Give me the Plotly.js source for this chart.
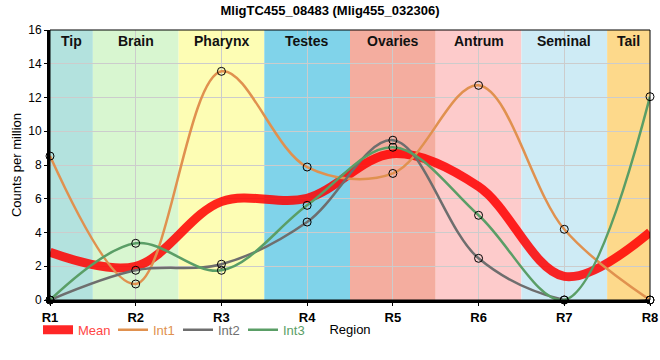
<!DOCTYPE html>
<html>
<head>
<meta charset="utf-8">
<script src="https://cdn.plot.ly/plotly-3.0.1.min.js"></script>
<style>html,body{margin:0;padding:0;background:#fff;}#chart{width:660px;height:360px;}</style>
</head>
<body>
<div id="chart"></div>
<script>
var regions = ["R1","R2","R3","R4","R5","R6","R7","R8"];
var meanVals = [2.83, 2.0, 5.83, 6.03, 8.67, 6.72, 1.4, 4.02];
var int1Vals = [8.53, 0.95, 13.55, 7.88, 7.5, 12.72, 4.19, 0];
var int2Vals = [0, 1.76, 2.12, 4.62, 9.47, 2.47, 0, 0];
var int3Vals = [0, 3.36, 1.76, 5.61, 9.05, 5.02, 0, 12.05];
var bandNames = ["Tip","Brain","Pharynx","Testes","Ovaries","Antrum","Seminal","Tail"];
var bandStart = [0, 0.5, 1.5, 2.5, 3.5, 4.5, 5.5, 6.5];
var bandEnd   = [0.5, 1.5, 2.5, 3.5, 4.5, 5.5, 6.5, 7];
var bandColors = ["#b3e2de","#d8f6d0","#fdfdb4","#80d3ea","#f4ad9f","#fdcbcb","#ceebf5","#fdd98b"];

var shapes = [];
var annotations = [];
for (var i = 0; i < bandNames.length; i++) {
  shapes.push({type:"rect", xref:"x", yref:"paper", x0:bandStart[i], x1:bandEnd[i], y0:0, y1:1,
    fillcolor:bandColors[i], line:{width:0}, layer:"below"});
  annotations.push({xref:"x", yref:"paper", x:(bandStart[i]+bandEnd[i])/2, y:1, yanchor:"top", yshift:-1,
    text:"<b>"+bandNames[i]+"</b>", showarrow:false, font:{family:"Liberation Sans, Arial", size:14, color:"#111"}});
}
shapes.push({type:"rect", xref:"paper", yref:"paper", x0:0, x1:1, y0:0, y1:1, line:{color:"#000", width:1}, fillcolor:"rgba(0,0,0,0)", layer:"above"});

var sm = 1.0;
var mk = {symbol:"circle-open", color:"#000", size:8, line:{width:1}};
function markerTrace(vals) {
  return {x:regions, y:vals, mode:"markers", marker:mk, showlegend:false, cliponaxis:false, hoverinfo:"skip"};
}
var traces = [
  {x:regions, y:meanVals, name:'<span style="color:#ff4545">Mean</span>', mode:"lines", legendwidth:30,
   line:{color:"rgba(255,0,0,0.85)", width:9, shape:"spline", smoothing:sm}},
  {x:regions, y:int1Vals, name:'<span style="color:#e0914f">Int1</span>', mode:"lines", legendwidth:20,
   line:{color:"#e0914f", width:2.5, shape:"spline", smoothing:sm}},
  {x:regions, y:int2Vals, name:'<span style="color:#707070">Int2</span>', mode:"lines", legendwidth:20,
   line:{color:"#6e6e6e", width:2.5, shape:"spline", smoothing:sm}},
  {x:regions, y:int3Vals, name:'<span style="color:#5a9e66">Int3</span>', mode:"lines", legendwidth:20,
   line:{color:"#5a9e66", width:2.5, shape:"spline", smoothing:sm}},
  markerTrace(int1Vals), markerTrace(int2Vals), markerTrace(int3Vals)
];

var layout = {
  width:660, height:360,
  margin:{l:50, r:10, t:30, b:60},
  paper_bgcolor:"#fff", plot_bgcolor:"#fff",
  font:{family:"Liberation Sans, Arial", size:12, color:"#000"},
  title:{text:"<b>MligTC455_08483 (Mlig455_032306)</b>", x:0.5, xanchor:"center", y:0.985, yanchor:"top",
    font:{size:13, color:"#000"}},
  xaxis:{type:"category", range:[0,7], showgrid:true, gridcolor:"#cccccc", gridwidth:1,
    showline:true, linecolor:"#000", linewidth:3, ticks:"outside", ticklen:3, tickcolor:"#000",
    tickfont:{size:13}, tickvals:regions, ticktext:regions.map(function(r){return "<b>"+r+"</b>";}),
    zeroline:false,
    title:{text:"Region", font:{size:13}, standoff:2}},
  yaxis:{range:[0,16], dtick:2, showgrid:true, gridcolor:"#cccccc", gridwidth:1,
    showline:true, linecolor:"#000", linewidth:3, ticks:"outside", ticklen:3, tickcolor:"#000",
    tickfont:{size:12}, zeroline:false,
    title:{text:"Counts per million", font:{size:13}, standoff:4}},
  showlegend:true,
  legend:{orientation:"h", x:-0.02, xanchor:"left", y:-0.11, yanchor:"middle",
    font:{size:13}, bgcolor:"rgba(0,0,0,0)", itemwidth:30, tracegroupgap:0},
  shapes:shapes,
  annotations:annotations
};

Plotly.newPlot("chart", traces, layout, {displayModeBar:false, staticPlot:true});
</script>
</body>
</html>
